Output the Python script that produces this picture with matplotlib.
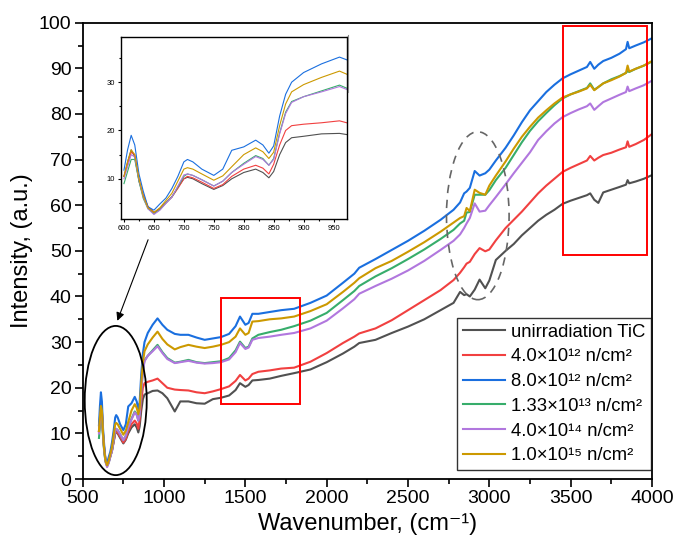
import matplotlib
matplotlib.use("Agg")
import matplotlib.pyplot as plt
from matplotlib.patches import Ellipse, Rectangle
from matplotlib.lines import Line2D
from matplotlib.ticker import MultipleLocator

plt.rcParams['font.family'] = ['Liberation Sans', 'DejaVu Sans']

wavenumber = [600, 606, 612, 618, 625, 632, 640, 650, 660, 670, 680, 690, 700, 706, 715, 730, 750, 765,
              780, 800, 820, 832, 842, 850, 860, 870, 880, 900, 930, 960, 990, 1020, 1066, 1100, 1150,
              1200, 1250, 1300, 1350, 1400, 1440, 1467, 1500, 1520, 1543, 1580, 1650, 1720, 1800, 1900,
              2000, 2100, 2170, 2200, 2300, 2400, 2500, 2600, 2700, 2780, 2820, 2845, 2860, 2880, 2910,
              2940, 2975, 3000, 3040, 3100, 3150, 3200, 3250, 3300, 3350, 3400, 3450, 3500, 3550, 3600,
              3620, 3645, 3670, 3700, 3750, 3800, 3840, 3850, 3860, 3900, 3950, 4000]

unirradiated = [10.5, 13.5, 16.0, 14.5, 9.5, 6.5, 4.2, 3.0, 3.8, 5.0, 6.3, 8.2, 10.0, 10.3, 10.0, 9.0, 7.8, 8.6,
                10.0, 11.3, 12.0, 11.3, 10.2, 11.5, 15.0, 17.5, 18.5, 18.8, 19.3, 19.4, 18.8, 17.7, 14.8, 17.0, 17.0,
                16.6, 16.5, 17.5, 17.8, 18.3, 19.5, 21.0, 20.2, 20.6, 21.6, 21.7, 22.0, 22.6, 23.2, 24.0,
                25.6, 27.5, 29.0, 29.8, 30.5, 32.0, 33.4, 35.0, 37.0, 38.6, 41.0, 40.3, 40.5, 40.0, 41.5,
                43.7, 41.8, 43.5, 48.0, 50.0, 51.5, 53.4, 55.0, 56.6, 57.9, 59.0, 60.3, 61.0, 61.6, 62.2,
                62.6, 61.2, 60.5, 62.8, 63.4, 64.0, 64.5, 65.5, 64.8, 65.2, 65.8, 66.6]

flu_4e12 = [10.5, 13.0, 15.5, 15.0, 10.0, 6.8, 4.3, 3.0, 3.8, 5.0, 6.2, 8.0, 10.0, 10.5, 10.2, 9.3, 8.0, 8.8,
            10.5, 12.0, 12.8, 12.2, 11.0, 13.0, 17.0, 20.0, 21.0, 21.3, 21.6, 22.0, 21.0, 20.0, 19.6, 19.5, 19.4,
            19.0, 18.8, 19.2, 19.7, 20.3, 21.5, 22.8, 21.6, 22.0, 23.0, 23.5, 23.8, 24.2, 24.4, 25.7,
            27.6, 29.8, 31.2, 31.9, 33.0, 34.8, 37.0, 39.2, 41.4, 43.6, 45.2, 46.4, 47.2, 47.6, 49.3,
            50.6, 49.9, 50.3, 52.3, 55.0, 56.8, 58.6, 60.6, 62.6, 64.3, 65.8, 67.3, 68.2, 69.0, 69.8,
            70.8, 69.8, 70.4, 71.0, 71.5, 72.2, 72.7, 74.0, 72.8, 73.4, 74.3, 75.6]

flu_8e12 = [11.8, 16.0, 19.0, 17.0, 11.0, 7.5, 4.2, 3.5, 4.8, 6.0, 8.0, 10.5, 13.5, 14.0, 13.5, 12.0, 10.7, 12.0,
            15.9, 16.6, 18.0, 17.0, 15.3, 16.8, 23.0, 27.5, 30.0, 32.0, 33.8, 35.2, 33.8, 32.7, 31.8, 31.6, 31.6,
            31.0, 30.5, 30.8, 31.1, 31.8, 33.5, 35.6, 33.8, 34.2, 36.2, 36.2, 36.6, 37.0, 37.3, 38.6,
            40.2, 43.0, 45.0, 46.3, 48.2, 50.2, 52.2, 54.4, 56.8, 59.0, 60.6, 62.6, 63.0, 63.8, 67.5,
            66.5, 67.0, 67.8, 69.8, 72.6, 75.3, 78.2, 80.8, 82.8, 84.8, 86.4, 87.8, 88.7, 89.5, 90.3,
            91.4, 89.9, 90.8, 91.6, 92.3, 93.2, 94.2, 95.8, 94.4, 95.0, 95.7, 96.6]

flu_133e13 = [9.0, 11.5, 14.0, 14.0, 9.5, 6.0, 3.8, 2.8, 3.6, 5.0, 6.2, 8.3, 10.5, 11.0, 10.7, 9.8, 8.5, 9.5,
              11.3, 13.2, 14.8, 14.2, 12.8, 14.2, 19.5, 23.8, 26.0, 27.0, 28.2, 29.4, 27.8, 26.5, 25.5, 25.7, 26.1,
              25.6, 25.4, 25.6, 25.8, 26.5, 28.2, 30.1, 28.7, 29.0, 30.8, 31.6, 32.2, 32.7, 33.5, 34.7,
              36.4, 39.2, 41.2, 42.3, 44.4, 46.2, 48.2, 50.3, 52.6, 54.6, 56.0, 56.6, 58.4, 58.5, 62.3,
              62.3, 62.3, 63.3, 65.5, 68.2, 71.0, 73.8, 76.3, 78.4, 80.2, 81.9, 83.4, 84.3, 85.0, 85.7,
              86.7, 85.3, 85.9, 86.7, 87.6, 88.3, 89.0, 89.4, 89.2, 89.9, 90.6, 91.5]

flu_4e14 = [10.0, 12.5, 15.0, 14.5, 9.8, 6.3, 3.8, 2.6, 3.5, 4.9, 6.2, 8.5, 10.8, 11.0, 10.7, 9.8, 8.5, 9.5,
            11.3, 13.0, 14.6, 14.0, 12.8, 14.0, 19.3, 23.5, 25.8, 27.0, 28.0, 29.1, 27.6, 26.3, 25.4, 25.6, 25.9,
            25.5, 25.3, 25.4, 25.6, 26.2, 27.8, 29.8, 28.5, 28.8, 30.5, 30.9, 31.2, 31.6, 32.0, 33.0,
            34.7, 37.4, 39.4, 40.6, 42.3, 43.9, 45.7, 47.8, 50.2, 52.2, 53.6, 55.0, 56.0, 57.2, 60.4,
            58.6, 58.8, 60.0, 61.8, 64.6, 67.0, 69.3, 71.6, 74.3, 76.2, 77.9, 79.3, 80.2, 81.0, 81.7,
            82.3, 80.9, 81.7, 82.6, 83.4, 84.2, 84.8, 86.0, 85.0, 85.6, 86.3, 87.3]

flu_1e15 = [10.5, 13.5, 16.0, 15.0, 10.0, 6.5, 4.0, 3.0, 4.0, 5.5, 7.0, 9.5, 12.0, 12.3, 12.0, 11.0, 9.7, 10.6,
            12.5, 15.0, 16.4, 15.6, 14.2, 15.5, 21.0, 25.5, 28.0, 29.5, 31.0, 32.3, 30.7, 29.5, 28.4, 28.9, 29.4,
            29.0, 28.7, 29.0, 29.4, 30.0, 31.2, 33.0, 31.6, 32.0, 34.5, 34.6, 35.0, 35.2, 35.6, 36.8,
            38.3, 41.0, 43.0, 44.0, 46.2, 47.8, 49.8, 51.9, 54.2, 56.2, 57.2, 57.6, 59.4, 58.7, 63.4,
            62.7, 62.3, 64.3, 66.5, 69.6, 72.4, 75.0, 77.2, 79.2, 80.8, 82.3, 83.6, 84.3, 84.9, 85.6,
            86.4, 85.2, 85.9, 86.7, 87.4, 88.2, 89.0, 90.6, 89.3, 89.9, 90.6, 91.6]

series = [unirradiated, flu_4e12, flu_8e12, flu_133e13, flu_4e14, flu_1e15]
labels = ["unirradiation TiC", "4.0×10¹² n/cm²", "8.0×10¹² n/cm²", "1.33×10¹³ n/cm²",
          "4.0×10¹⁴ n/cm²", "1.0×10¹⁵ n/cm²"]
colors = ["#515151", "#F14040", "#1A6FDF", "#37AD6B", "#B177DE", "#CC9900"]

W, H = 676, 546
fig = plt.figure(figsize=(W / 100, H / 100), dpi=100)
ax = fig.add_axes([82.7 / W, 1 - 479 / H, (652 - 82.7) / W, (479 - 22.7) / H])

for y, lab, c in zip(series, labels, colors):
    ax.plot(wavenumber, y, color=c, lw=1.5, label=lab)

ax.set_xlim(500, 4000)
ax.set_ylim(0, 100)
ax.xaxis.set_major_locator(MultipleLocator(500))
ax.xaxis.set_minor_locator(MultipleLocator(250))
ax.yaxis.set_major_locator(MultipleLocator(10))
ax.yaxis.set_minor_locator(MultipleLocator(5))
ax.tick_params(which='major', direction='out', length=6, width=1.2, labelsize=14, pad=2)
ax.tick_params(which='minor', direction='out', length=3.5, width=1.2)
for s in ax.spines.values():
    s.set_linewidth(1.3)
ax.set_xlabel("Wavenumber, (cm⁻¹)", fontsize=17)
ax.set_ylabel("Intensity, (a.u.)", fontsize=17)

# annotations
ax.add_patch(Ellipse((703, 17.2), 381, 32.7, fill=False, edgecolor='black', lw=1.3, zorder=5))
ax.add_patch(Rectangle((1349, 16.4), 486, 23.2, fill=False, edgecolor='#FF0000', lw=1.4, zorder=5))
ax.add_patch(Rectangle((3454, 49.1), 517, 50.2, fill=False, edgecolor='#FF0000', lw=1.4, zorder=5))
ax.add_patch(Ellipse((2929, 57.7), 385, 36.8, fill=False, edgecolor='#666666', lw=1.2,
                     linestyle=(0, (5, 4)), zorder=5))
ax.annotate('', xy=(707, 34.1), xytext=(908, 53),
            arrowprops=dict(arrowstyle='-|>', color='black', lw=0.8, mutation_scale=12))

leg = ax.legend(loc='lower right', bbox_to_anchor=(0.998, 0.02), fontsize=13.3, frameon=True,
                fancybox=False, edgecolor='black', handlelength=2.3, handletextpad=0.3,
                labelspacing=0.42, borderpad=0.3, borderaxespad=0)
leg.get_frame().set_linewidth(1.0)

# inset
axin = fig.add_axes([120.7 / W, 1 - 219 / H, 226 / W, 181.7 / H])
for y, c in zip(series, colors):
    axin.plot(wavenumber, y, color=c, lw=0.8)
axin.set_xlim(594.5, 972)
axin.set_ylim(1.67, 39.3)
axin.xaxis.set_major_locator(MultipleLocator(50))
axin.xaxis.set_minor_locator(MultipleLocator(25))
axin.yaxis.set_major_locator(MultipleLocator(10))
axin.yaxis.set_minor_locator(MultipleLocator(5))
axin.tick_params(which='major', direction='out', length=2.5, width=0.8, labelsize=5.5, pad=1.5)
axin.tick_params(which='minor', direction='out', length=1.5, width=0.8)
for s in axin.spines.values():
    s.set_linewidth(1.0)

fig.add_artist(Line2D([348 / W, 348 / W], [1 - 35 / H, 1 - 92 / H], color='#888888', lw=0.8))

fig.savefig("out.png", dpi=100)
